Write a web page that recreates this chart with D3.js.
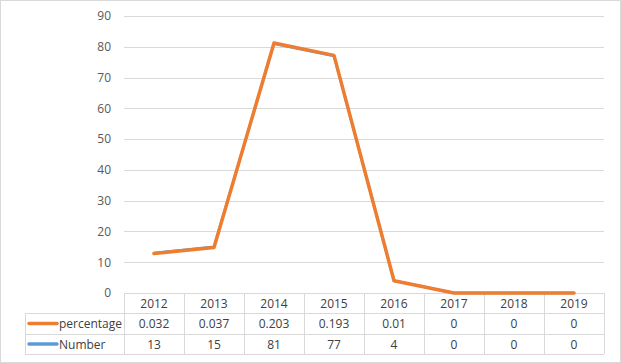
<!DOCTYPE html>
<html><head><meta charset="utf-8">
<script src="https://cdn.jsdelivr.net/npm/d3@7"></script>
<style>body{margin:0;background:#fff}svg{display:block}</style>
</head><body><svg id="c" width="621" height="363"></svg>
<script>
const years = ["2012","2013","2014","2015","2016","2017","2018","2019"];
const percentage = [0.032,0.037,0.203,0.193,0.01,0,0,0];
const number = [13,15,81,77,4,0,0,0];
const yTicks = [0,10,20,30,40,50,60,70,80,90];
const seriesNames = ["percentage","Number"];
const colors = {percentage:"#ed7d31", Number:"#5b9bd5"};

(function(){
const svg = d3.select("#c");
const font = "'Open Sans', 'Liberation Sans', sans-serif";
const fs = "12px";
svg.append("rect").attr("x",0.5).attr("y",0.5).attr("width",620).attr("height",362)
  .attr("fill","#fff").attr("stroke","#d9d9d9");

const pL = 124, pR = 604, pT = 16, pB = 293;
const x = d3.scaleBand().domain(years).range([pL,pR]);
const y = d3.scaleLinear().domain([0,90]).range([pB,pT]);
const y2 = d3.scaleLinear().domain([0,0.225]).range([pB,pT]);

svg.append("g").selectAll("line").data(yTicks.filter(d=>d>0)).join("line")
  .attr("x1",pL).attr("x2",pR).attr("y1",d=>Math.round(y(d))+0.5).attr("y2",d=>Math.round(y(d))+0.5)
  .attr("stroke","#d9d9d9").attr("stroke-width",1);

const yAxis = d3.axisLeft(y).tickValues(yTicks).tickSize(0).tickPadding(13);
const ga = svg.append("g").attr("transform",`translate(${pL},0)`).call(yAxis);
ga.select(".domain").remove();
ga.selectAll("text").attr("font-family",font).attr("font-size",fs).attr("fill","#595959");

const rowY = [293,313,334,354];
const tbl = svg.append("g").attr("stroke","#d9d9d9").attr("stroke-width",1);
tbl.append("line").attr("x1",pL).attr("x2",pR).attr("y1",rowY[0]+0.5).attr("y2",rowY[0]+0.5);
[1,2,3].forEach(i=>tbl.append("line").attr("x1",25).attr("x2",pR).attr("y1",rowY[i]+0.5).attr("y2",rowY[i]+0.5));
const vx = years.map(d=>x(d)).concat([pR]);
vx.forEach(v=>tbl.append("line").attr("x1",v+0.5).attr("x2",v+0.5).attr("y1",rowY[0]).attr("y2",rowY[3]));
tbl.append("line").attr("x1",25.5).attr("x2",25.5).attr("y1",rowY[1]).attr("y2",rowY[3]);

const txt = svg.append("g").attr("font-family",font).attr("font-size",fs).attr("fill","#404040").attr("text-anchor","middle");
years.forEach((yr,i)=>{
  const cx = x(yr)+x.bandwidth()/2;
  txt.append("text").attr("x",cx).attr("y",(rowY[0]+rowY[1])/2+4.5).text(yr);
  txt.append("text").attr("x",cx).attr("y",(rowY[1]+rowY[2])/2+4.5).text(percentage[i]);
  txt.append("text").attr("x",cx).attr("y",(rowY[2]+rowY[3])/2+4.5).text(number[i]);
});
seriesNames.forEach((s,i)=>{
  const cy = (rowY[i+1]+rowY[i+2])/2;
  svg.append("line").attr("x1",29).attr("x2",57).attr("y1",cy).attr("y2",cy)
    .attr("stroke",colors[s]).attr("stroke-width",3.5).attr("stroke-linecap","round");
  svg.append("text").attr("x",59).attr("y",cy+4.5).attr("font-family",font).attr("font-size",fs)
    .attr("fill","#404040").text(s);
});

const cxf = (d,i)=>x(years[i])+x.bandwidth()/2;
svg.append("path").datum(number)
  .attr("d",d3.line().x(cxf).y(d=>y(d)))
  .attr("fill","none").attr("stroke",colors.Number).attr("stroke-width",2.5).attr("stroke-linejoin","round").attr("stroke-linecap","round");
svg.append("path").datum(percentage)
  .attr("d",d3.line().x(cxf).y(d=>y2(d)))
  .attr("fill","none").attr("stroke",colors.percentage).attr("stroke-width",3.5).attr("stroke-linejoin","round").attr("stroke-linecap","round");
})();
</script></body></html>
